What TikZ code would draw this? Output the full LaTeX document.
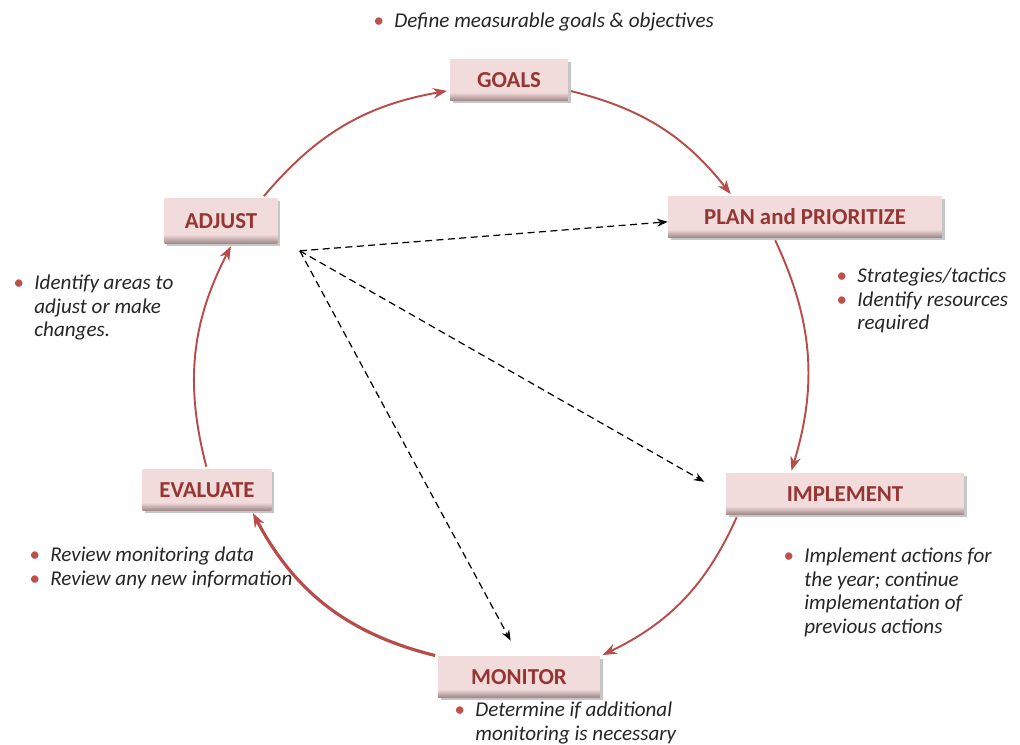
\documentclass[tikz,border=0pt]{standalone}
\usepackage{fontspec}
\setmainfont{Carlito}
\usetikzlibrary{arrows.meta,shadows,positioning}

\definecolor{boxpink}{HTML}{F2DCDB}
\definecolor{boxdark}{HTML}{9E8786}
\definecolor{labelred}{HTML}{943634}
\definecolor{arcred}{HTML}{B84C4B}
\definecolor{bulletred}{HTML}{C0504D}
\definecolor{notegray}{HTML}{262626}

% bottom edge of the boxes is darker
\pgfdeclareverticalshading{boxshade}{100bp}{color(0bp)=(boxdark); color(25bp)=(boxdark); color(35bp)=(boxpink); color(100bp)=(boxpink)}

\newcommand{\bul}{\textcolor{bulletred}{\textbullet}}

\tikzset{
  phase/.style={draw=none,shading=boxshade,minimum height=0.82cm,inner sep=2pt,
    font=\fontsize{13}{15}\selectfont\bfseries,text=labelred,
    drop shadow={shadow xshift=1.5pt,shadow yshift=-1.2pt,opacity=0.45}},
  note/.style={anchor=north west,inner sep=0pt,text=notegray,
    font=\fontsize{12}{13.4}\selectfont\itshape},
  looparrow/.style={draw=arcred,line width=1.1pt,-{Stealth[length=8pt,width=6pt]},
    shorten <=1.5pt,shorten >=1.5pt},
  dasharrow/.style={draw=black,line width=0.7pt,dash pattern=on 4pt off 2.5pt,
    -{Stealth[length=6pt,width=4.5pt]}}
}

\begin{document}
\begin{tikzpicture}[x=0.02cm,y=-0.02cm]
\useasboundingbox (0,0) rectangle (1020,744);

% the six phases
\node[phase,minimum width=2.36cm] (goals) at (509,80) {GOALS};
\node[phase,minimum width=5.48cm] (plan) at (805,217) {PLAN and PRIORITIZE};
\node[phase,minimum width=4.76cm] (impl) at (845,494) {IMPLEMENT};
\node[phase,minimum width=3.24cm] (mon) at (519,677) {MONITOR};
\node[phase,minimum width=2.58cm] (eval) at (207,490) {EVALUATE};
\node[phase,minimum width=2.26cm,minimum height=0.9cm] (adjust) at (221,221) {ADJUST};

% cycle
\foreach \a/\b/\bend/\w in {adjust.29/goals.190/20/1.1pt,
                             goals.350/plan.164/19/1.1pt,
                             plan.214/impl.159/21/1.1pt,
                             impl.191/mon.north east/20/1.1pt,
                             mon.north west/eval.335/24/1.8pt,
                             eval.north/adjust.296/21/1.1pt}
  \draw[looparrow,line width=\w] (\a) to[bend left=\bend] (\b);

% shortcuts from adjust
\coordinate (hub) at ([shift={(22,7)}]adjust.south east);
\draw[dasharrow] (hub) -- (plan.182);
\draw[dasharrow,shorten >=14pt] (hub) -- (impl.west);
\draw[dasharrow,shorten >=10pt] (hub) -- (mon.north);

% notes
\node[note] (goalsnote) at (373,11) {\begin{tabular}{@{}l@{\hspace{6pt}}l@{}}
  \bul & Define measurable goals \& objectives\end{tabular}};
\node[note] (plannote) at (836,266) {\begin{tabular}{@{}l@{\hspace{6pt}}l@{}}
  \bul & Strategies/tactics\\ \bul & Identify resources\\ & required\end{tabular}};
\node[note] (implnote) at (783,546) {\begin{tabular}{@{}l@{\hspace{6pt}}l@{}}
  \bul & Implement actions for\\ & the year; continue\\ & implementation of\\ & previous actions\end{tabular}};
\node[note] (monnote) at (454,700) {\begin{tabular}{@{}l@{\hspace{6pt}}l@{}}
  \bul & Determine if additional\\ & monitoring is necessary\end{tabular}};
\node[note] (evalnote) at (29,545) {\begin{tabular}{@{}l@{\hspace{6pt}}l@{}}
  \bul & Review monitoring data\\ \bul & Review any new information\end{tabular}};
\node[note] (adjnote) at (13,273) {\begin{tabular}{@{}l@{\hspace{6pt}}l@{}}
  \bul & Identify areas to\\ & adjust or make\\ & changes.\end{tabular}};
\end{tikzpicture}
\end{document}
